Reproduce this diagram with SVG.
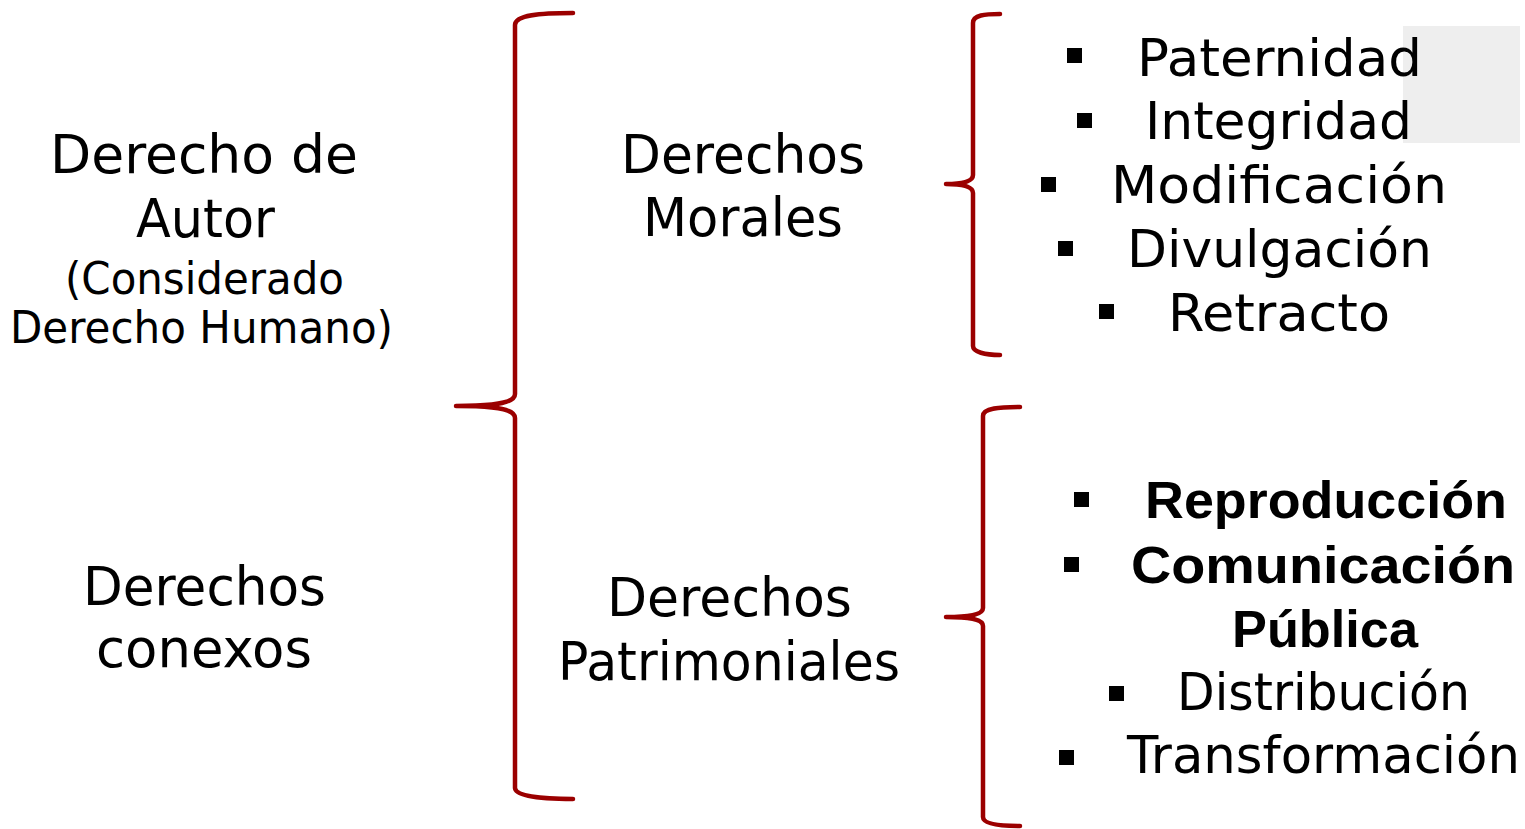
<svg xmlns="http://www.w3.org/2000/svg" width="1525" height="829" viewBox="0 0 1525 829">
  <style>
    .t { font-family: "DejaVu Sans", "Liberation Sans", sans-serif; fill: #000; }
    .big { font-size: 54px; }
    .small { font-size: 44px; }
    .item { font-size: 51px; }
    .bold { font-family: "Liberation Sans", "DejaVu Sans", sans-serif; font-size: 52px; font-weight: bold; }
    .brace { fill: none; stroke: #9b0000; stroke-width: 4.5; stroke-linecap: round; stroke-linejoin: round; }
    .bullet { fill: #000; }
  </style>
  <rect x="0" y="0" width="1525" height="829" fill="#ffffff"/>
  <rect x="1403" y="26" width="117" height="117" fill="#eeeeee"/>

  <g id="connectors">
    <path class="brace" d="M573,13 C540,13 515,15 515,25 L515,394 C515,402 500,406 456,406 C500,406 515,410 515,418 L515,788 C515,796 540,799 573,799"/>
    <path class="brace" d="M1000,14 C985,14 973,15 973,23 L973,175 C973,181 965,184 946,184 C965,184 973,187 973,193 L973,346 C973,352 985,355 1000,355"/>
    <path class="brace" d="M1020,407 C1000,407 983,408 983,416 L983,608 C983,614 972,617 946,617 C972,617 983,620 983,626 L983,817 C983,824 1000,826 1020,826"/>
  </g>

  <g id="derecho-autor">
    <text class="t big" x="50" y="173" textLength="308" lengthAdjust="spacingAndGlyphs">Derecho de</text>
    <text class="t big" x="136" y="237" textLength="139" lengthAdjust="spacingAndGlyphs">Autor</text>
    <text class="t small" x="65" y="294" textLength="279" lengthAdjust="spacingAndGlyphs">(Considerado</text>
    <text class="t small" x="10" y="343" textLength="383" lengthAdjust="spacingAndGlyphs">Derecho Humano)</text>
  </g>

  <g id="derechos-conexos">
    <text class="t big" x="83" y="605" textLength="243" lengthAdjust="spacingAndGlyphs">Derechos</text>
    <text class="t big" x="96" y="667" textLength="216" lengthAdjust="spacingAndGlyphs">conexos</text>
  </g>

  <g id="derechos-morales">
    <text class="t big" x="621" y="173" textLength="244" lengthAdjust="spacingAndGlyphs">Derechos</text>
    <text class="t big" x="643" y="236" textLength="200" lengthAdjust="spacingAndGlyphs">Morales</text>
  </g>

  <g id="derechos-patrimoniales">
    <text class="t big" x="607" y="616" textLength="245" lengthAdjust="spacingAndGlyphs">Derechos</text>
    <text class="t big" x="558" y="680" textLength="342" lengthAdjust="spacingAndGlyphs">Patrimoniales</text>
  </g>

  <g id="lista-morales">
    <rect class="bullet" x="1067" y="48" width="15" height="15"/>
    <text class="t item" x="1137" y="76" textLength="285" lengthAdjust="spacingAndGlyphs">Paternidad</text>
    <rect class="bullet" x="1077" y="113" width="15" height="15"/>
    <text class="t item" x="1145" y="139" textLength="267" lengthAdjust="spacingAndGlyphs">Integridad</text>
    <rect class="bullet" x="1041" y="177" width="15" height="15"/>
    <text class="t item" x="1111" y="203" textLength="336" lengthAdjust="spacingAndGlyphs">Modificación</text>
    <rect class="bullet" x="1058" y="241" width="15" height="15"/>
    <text class="t item" x="1127" y="267" textLength="305" lengthAdjust="spacingAndGlyphs">Divulgación</text>
    <rect class="bullet" x="1099" y="304" width="15" height="15"/>
    <text class="t item" x="1168" y="331" textLength="222" lengthAdjust="spacingAndGlyphs">Retracto</text>
  </g>

  <g id="lista-patrimoniales">
    <rect class="bullet" x="1074" y="492" width="15" height="15"/>
    <text class="t bold" x="1145" y="518" textLength="362" lengthAdjust="spacingAndGlyphs">Reproducción</text>
    <rect class="bullet" x="1064" y="557" width="15" height="15"/>
    <text class="t bold" x="1131" y="583" textLength="384" lengthAdjust="spacingAndGlyphs">Comunicación</text>
    <text class="t bold" x="1232" y="647" textLength="186" lengthAdjust="spacingAndGlyphs">Pública</text>
    <rect class="bullet" x="1109" y="686" width="15" height="15"/>
    <text class="t item" x="1177" y="710" textLength="293" lengthAdjust="spacingAndGlyphs">Distribución</text>
    <rect class="bullet" x="1059" y="750" width="15" height="15"/>
    <text class="t item" x="1127" y="773" textLength="393" lengthAdjust="spacingAndGlyphs">Transformación</text>
  </g>
</svg>
